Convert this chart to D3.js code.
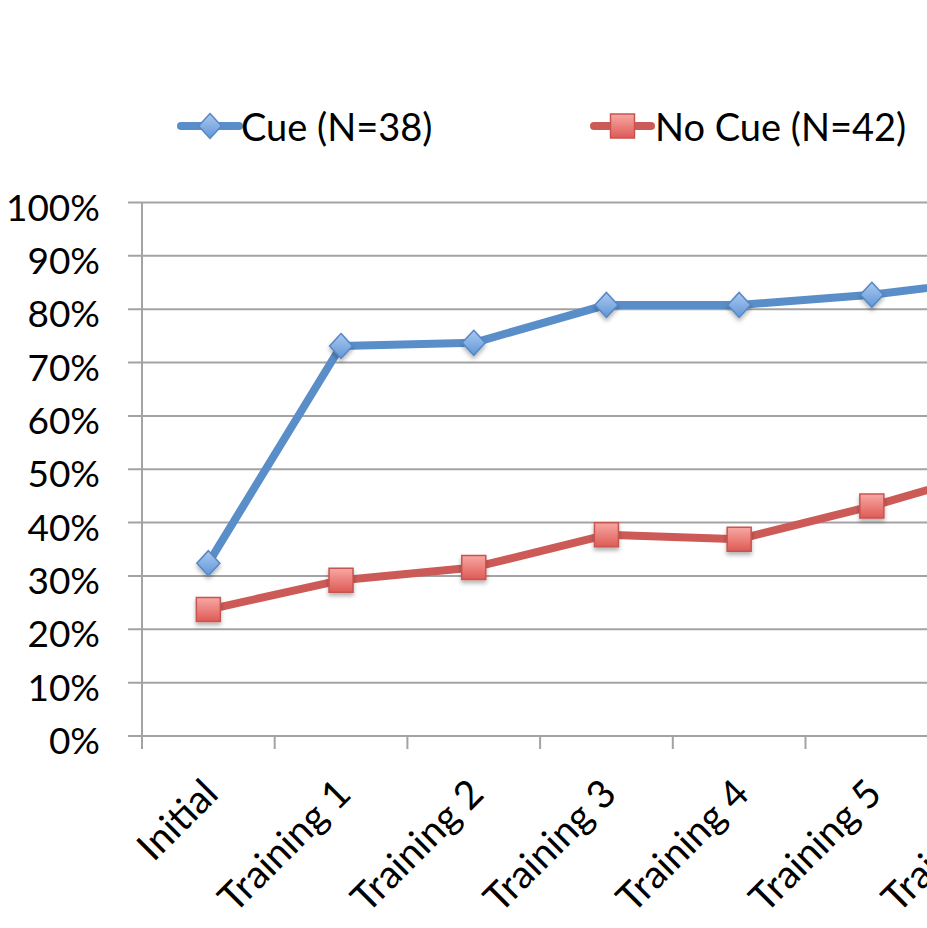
<!DOCTYPE html>
<html>
<head>
<meta charset="utf-8">
<script src="https://cdn.jsdelivr.net/npm/d3@7/dist/d3.min.js"></script>
<style>
  html, body { margin: 0; padding: 0; background: #ffffff; }
  svg { display: block; }
  text { font-family: Lato, "Open Sans", sans-serif; fill: #000; }
</style>
</head>
<body>
<svg id="chart" width="927" height="928"></svg>
<script>
// Share of participants meeting criterion, by session
const categories = ["Initial", "Training 1", "Training 2", "Training 3", "Training 4", "Training 5", "Training 6"];
const cueValues   = [0.324, 0.731, 0.737, 0.808, 0.808, 0.827, 0.858];
const noCueValues = [0.237, 0.292, 0.316, 0.377, 0.369, 0.431, 0.503];
const yTickValues = [0, 0.1, 0.2, 0.3, 0.4, 0.5, 0.6, 0.7, 0.8, 0.9, 1.0];
const seriesNames = ["Cue (N=38)", "No Cue (N=42)"];

const W = 927, H = 928;
const plot = { left: 142, top: 202.5, bottom: 736, step: 132.7 };

const svg = d3.select("#chart");
const defs = svg.append("defs");

// marker fills and soft shadow
const gBlue = defs.append("linearGradient").attr("id", "gBlue").attr("x1", 0).attr("y1", 0).attr("x2", 0).attr("y2", 1);
gBlue.append("stop").attr("offset", "0%").attr("stop-color", "#aac9f1");
gBlue.append("stop").attr("offset", "100%").attr("stop-color", "#6296d6");
const gRed = defs.append("linearGradient").attr("id", "gRed").attr("x1", 0).attr("y1", 0).attr("x2", 0).attr("y2", 1);
gRed.append("stop").attr("offset", "0%").attr("stop-color", "#f8a8a4");
gRed.append("stop").attr("offset", "100%").attr("stop-color", "#de5a55");
const shadow = defs.append("filter").attr("id", "shadow").attr("x", "-50%").attr("y", "-50%").attr("width", "200%").attr("height", "200%");
shadow.append("feDropShadow").attr("dx", 0).attr("dy", 3).attr("stdDeviation", 2.2)
  .attr("flood-color", "#000").attr("flood-opacity", 0.3);

const x = d3.scaleBand()
  .domain(categories)
  .range([plot.left, plot.left + plot.step * categories.length])
  .paddingInner(0).paddingOuter(0);
const cx = c => x(c) + x.bandwidth() / 2;

const y = d3.scaleLinear().domain([0, 1]).range([plot.bottom, plot.top]);

const gridColor = "#a3a3a3";

// horizontal gridlines with outward tick stubs
svg.append("g").selectAll("line")
  .data(yTickValues)
  .join("line")
  .attr("x1", plot.left - 14).attr("x2", W)
  .attr("y1", d => y(d)).attr("y2", d => y(d))
  .attr("stroke", gridColor).attr("stroke-width", 2);

// vertical axis line
svg.append("line")
  .attr("x1", plot.left).attr("x2", plot.left)
  .attr("y1", plot.top).attr("y2", plot.bottom + 13)
  .attr("stroke", gridColor).attr("stroke-width", 2);

// category boundary ticks
const boundaries = categories.map(c => x(c)).concat([x(categories[categories.length - 1]) + x.bandwidth()]);
svg.append("g").selectAll("line")
  .data(boundaries)
  .join("line")
  .attr("x1", d => d).attr("x2", d => d)
  .attr("y1", plot.bottom).attr("y2", plot.bottom + 13)
  .attr("stroke", gridColor).attr("stroke-width", 2);

// y tick labels
const fmt = d3.format(".0%");
svg.append("g").selectAll("text")
  .data(yTickValues)
  .join("text")
  .attr("x", 100)
  .attr("y", d => y(d) + 18)
  .attr("text-anchor", "end")
  .attr("font-size", 37)
  .text(d => fmt(d));

// rotated category labels (the last one runs past the right edge)
svg.append("g").selectAll("text")
  .data(categories)
  .join("text")
  .attr("text-anchor", "end")
  .attr("font-size", 39)
  .attr("transform", d => `translate(${cx(d) + 12},${plot.bottom + 60}) rotate(-45)`)
  .text(d => d);

// series lines
const line = d3.line().x((d, i) => cx(categories[i])).y(d => y(d));
const series = [
  { name: seriesNames[0], values: cueValues, color: "#5a8ec8", marker: "diamond", fill: "url(#gBlue)", stroke: "#5587c4" },
  { name: seriesNames[1], values: noCueValues, color: "#cc5b57", marker: "square", fill: "url(#gRed)", stroke: "#c75450" }
];

const diamondPath = (px, py) => `M${px},${py - 12.5}L${px + 11.5},${py}L${px},${py + 12.5}L${px - 11.5},${py}Z`;
const squarePath = (px, py) => `M${px - 12},${py - 12}h24v24h-24Z`;

series.forEach(s => {
  svg.append("path")
    .datum(s.values)
    .attr("d", line)
    .attr("fill", "none")
    .attr("stroke", s.color)
    .attr("stroke-width", 8)
    .attr("stroke-linejoin", "round");
});

series.forEach(s => {
  svg.append("g").selectAll("path")
    .data(s.values)
    .join("path")
    .attr("d", (d, i) => s.marker === "diamond" ? diamondPath(cx(categories[i]), y(d)) : squarePath(cx(categories[i]), y(d)))
    .attr("fill", s.fill)
    .attr("stroke", s.stroke)
    .attr("stroke-width", 1.5)
    .attr("filter", "url(#shadow)");
});

// legend
const legendItems = [
  { s: series[0], x0: 181, x1: 239, tx: 241 },
  { s: series[1], x0: 594, x1: 651, tx: 655 }
];
const legendY = 126;
legendItems.forEach(it => {
  const g = svg.append("g");
  g.append("line")
    .attr("x1", it.x0).attr("x2", it.x1)
    .attr("y1", legendY).attr("y2", legendY)
    .attr("stroke", it.s.color).attr("stroke-width", 8).attr("stroke-linecap", "round");
  const mx = (it.x0 + it.x1) / 2;
  g.append("path")
    .attr("d", it.s.marker === "diamond" ? diamondPath(mx, legendY) : squarePath(mx, legendY))
    .attr("fill", it.s.fill).attr("stroke", it.s.stroke).attr("stroke-width", 1.5);
  g.append("text")
    .attr("x", it.tx).attr("y", legendY + 15)
    .attr("font-size", 38)
    .text(it.s.name);
});
</script>
</body>
</html>
